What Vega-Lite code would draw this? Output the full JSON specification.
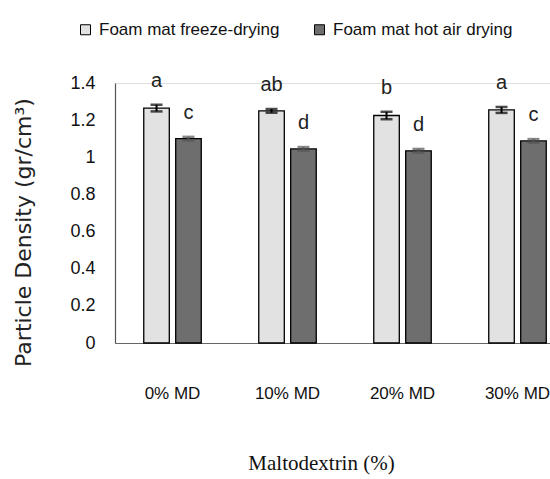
{
  "$schema": "https://vega.github.io/schema/vega-lite/v6.json",
  "autosize": {"type": "none"},
  "width": 435,
  "height": 260,
  "padding": {"left": 115, "top": 83, "right": 0, "bottom": 136},
  "background": "white",
  "config": {
    "axisY": {
      "titleFont": "DejaVu Sans", "titleFontSize": 22, "titleFontWeight": "normal", "titleColor": "#222",
      "titleX": -92, "titleY": 149, "titleAngle": -90, "titleAlign": "center", "titleBaseline": "middle",
      "labelOverlap": false,
      "labelFont": "Liberation Sans", "labelFontSize": 18, "labelColor": "#111",
      "labelPadding": 20, "ticks": false, "tickSize": 0,
      "domainColor": "#555", "domainWidth": 1.2, "grid": false
    }
  },
  "data": {
    "values": [
      {"md": "0% MD", "method": "Foam mat freeze-drying", "value": 1.265, "err": 0.018, "group": "a"},
      {"md": "0% MD", "method": "Foam mat hot air drying", "value": 1.10, "err": 0.01, "group": "c"},
      {"md": "10% MD", "method": "Foam mat freeze-drying", "value": 1.25, "err": 0.01, "group": "ab"},
      {"md": "10% MD", "method": "Foam mat hot air drying", "value": 1.045, "err": 0.01, "group": "d"},
      {"md": "20% MD", "method": "Foam mat freeze-drying", "value": 1.225, "err": 0.02, "group": "b"},
      {"md": "20% MD", "method": "Foam mat hot air drying", "value": 1.035, "err": 0.01, "group": "d"},
      {"md": "30% MD", "method": "Foam mat freeze-drying", "value": 1.255, "err": 0.016, "group": "a"},
      {"md": "30% MD", "method": "Foam mat hot air drying", "value": 1.088, "err": 0.01, "group": "c"}
    ]
  },
  "transform": [
    {"calculate": "datum.value + datum.err", "as": "hi"},
    {"calculate": "datum.value - datum.err", "as": "lo"}
  ],
  "encoding": {
    "x": {
      "field": "md", "type": "nominal", "sort": null,
      "scale": {"range": [0, 460], "paddingInner": 0, "paddingOuter": 0},
      "axis": {
        "title": "Maltodextrin (%)",
        "titleFont": "Liberation Serif", "titleFontSize": 21, "titleFontWeight": "normal", "titleColor": "#111",
        "titleX": 206, "titleY": 120, "titleBaseline": "middle", "titleAlign": "center",
        "labelAngle": 0, "labelFont": "Liberation Sans", "labelFontSize": 17, "labelColor": "#111",
        "labelPadding": 42, "ticks": false, "tickSize": 0,
        "domainColor": "#666", "domainWidth": 1.2, "grid": false
      }
    },
    "xOffset": {
      "field": "method", "type": "nominal", "sort": null,
      "scale": {"paddingInner": 0.2, "paddingOuter": 0.9}
    }
  },
  "layer": [
    {
      "mark": {"type": "bar", "stroke": "black", "strokeWidth": 1.3},
      "encoding": {
        "y": {
          "field": "value", "type": "quantitative",
          "scale": {"domain": [0, 1.4], "nice": false},
          "axis": {"title": "Particle Density (gr/cm³)", "values": [0, 0.2, 0.4, 0.6, 0.8, 1, 1.2, 1.4], "format": ".1~f"}
        },
        "fill": {
          "field": "method", "type": "nominal", "sort": null,
          "scale": {"range": ["#e2e2e2", "#6e6e6e"]},
          "legend": {
            "title": null, "orient": "none", "direction": "horizontal",
            "legendX": -38, "legendY": -62,
            "symbolType": "square", "symbolSize": 100, "symbolStrokeColor": "black", "symbolStrokeWidth": 1,
            "labelFont": "Liberation Sans", "labelFontSize": 17, "labelColor": "#111",
            "labelOffset": 5, "columnPadding": 31, "labelLimit": 300
          }
        }
      }
    },
    {
      "mark": {"type": "rule", "strokeWidth": 2},
      "encoding": {
        "y": {"field": "lo", "type": "quantitative", "axis": {"title": "Particle Density (gr/cm³)", "values": [0, 0.2, 0.4, 0.6, 0.8, 1, 1.2, 1.4], "format": ".1~f"}},
        "y2": {"field": "hi"},
        "color": {
          "condition": {"test": "datum.method === 'Foam mat freeze-drying'", "value": "black"},
          "value": "#555"
        }
      }
    },
    {
      "mark": {"type": "tick", "thickness": 2.5, "size": 12, "orient": "horizontal"},
      "encoding": {
        "y": {"field": "hi", "type": "quantitative", "axis": {"title": "Particle Density (gr/cm³)", "values": [0, 0.2, 0.4, 0.6, 0.8, 1, 1.2, 1.4], "format": ".1~f"}},
        "color": {
          "condition": {"test": "datum.method === 'Foam mat freeze-drying'", "value": "black"},
          "value": "#555"
        }
      }
    },
    {
      "mark": {"type": "tick", "thickness": 2.5, "size": 12, "orient": "horizontal"},
      "encoding": {
        "y": {"field": "lo", "type": "quantitative", "axis": {"title": "Particle Density (gr/cm³)", "values": [0, 0.2, 0.4, 0.6, 0.8, 1, 1.2, 1.4], "format": ".1~f"}},
        "color": {
          "condition": {"test": "datum.method === 'Foam mat freeze-drying'", "value": "black"},
          "value": "#555"
        }
      }
    },
    {
      "mark": {"type": "text", "baseline": "middle", "dy": -24, "font": "Liberation Sans", "fontSize": 20, "color": "#222"},
      "encoding": {
        "y": {"field": "hi", "type": "quantitative", "axis": {"title": "Particle Density (gr/cm³)", "values": [0, 0.2, 0.4, 0.6, 0.8, 1, 1.2, 1.4], "format": ".1~f"}},
        "text": {"field": "group"}
      }
    }
  ]
}
